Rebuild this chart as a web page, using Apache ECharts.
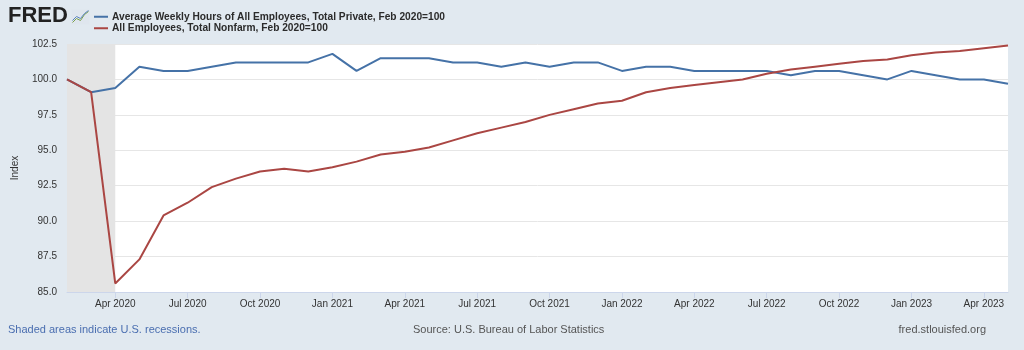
<!DOCTYPE html>
<html><head><meta charset="utf-8">
<script src="https://cdn.jsdelivr.net/npm/echarts@6/dist/echarts.min.js"></script>
<style>html,body{margin:0;padding:0;background:#e1e9f0;}#c{width:1024px;height:350px;}</style>
</head><body><div id="c"></div>
<script>
const months = ['Jan','Feb','Mar','Apr','May','Jun','Jul','Aug','Sep','Oct','Nov','Dec'];
const categories = [];
for (let y = 2020; y <= 2023; y++) for (let m = 0; m < 12; m++) {
  if ((y === 2020 && m < 1) || (y === 2023 && m > 4)) continue;
  categories.push(months[m] + ' ' + y);
}
const hoursIndex = [100.0, 99.1, 99.4, 100.9, 100.6, 100.6, 100.9, 101.2, 101.2, 101.2, 101.2,
  101.8, 100.6, 101.5, 101.5, 101.5, 101.2, 101.2, 100.9, 101.2, 100.9, 101.2, 101.2,
  100.6, 100.9, 100.9, 100.6, 100.6, 100.6, 100.6, 100.3, 100.6, 100.6, 100.3, 100.0,
  100.6, 100.3, 100.0, 100.0, 99.7];
const employeesIndex = [100.0, 99.1, 85.6, 87.3, 90.4, 91.3, 92.4, 93.0, 93.5, 93.7, 93.5,
  93.8, 94.2, 94.7, 94.9, 95.2, 95.7, 96.2, 96.6, 97.0, 97.5, 97.9, 98.3,
  98.5, 99.1, 99.4, 99.6, 99.8, 100.0, 100.4, 100.7, 100.9, 101.1, 101.3, 101.4,
  101.7, 101.9, 102.0, 102.2, 102.4];
const seriesNames = ['Average Weekly Hours of All Employees, Total Private, Feb 2020=100',
  'All Employees, Total Nonfarm, Feb 2020=100'];
const recession = ['Feb 2020', 'Apr 2020'];
const yTicks = {min: 85, max: 102.5, step: 2.5};

const chart = echarts.init(document.getElementById('c'));
const quarterly = (i) => i % 3 === 2;
chart.setOption({
  backgroundColor: '#e1e9f0',
  animation: false,
  textStyle: {fontFamily: 'Liberation Sans, Arial, sans-serif'},
  grid: {left: 67, right: 16, top: 44, bottom: 58, show: true, backgroundColor: '#ffffff', borderWidth: 0},
  legend: {
    left: 94, top: 11, orient: 'vertical', itemGap: 0, itemWidth: 14, itemHeight: 2,
    icon: 'rect', padding: 0,
    textStyle: {fontSize: 10.2, color: '#2b2b2b', fontWeight: 'bold', lineHeight: 11.5, padding: [0,0,0,-1]},
    data: seriesNames
  },
  xAxis: {
    type: 'category', data: categories, boundaryGap: false,
    axisLine: {lineStyle: {color: '#ccd6eb'}},
    axisTick: {interval: quarterly, length: 6, lineStyle: {color: '#ccd6eb'}},
    axisLabel: {interval: quarterly, color: '#333', fontSize: 10, margin: 7},
    splitLine: {show: false}
  },
  yAxis: {
    type: 'value', min: yTicks.min, max: yTicks.max, interval: yTicks.step,
    name: 'Index', nameLocation: 'middle', nameGap: 47, nameRotate: 90,
    nameTextStyle: {color: '#333', fontSize: 10},
    axisLine: {show: false}, axisTick: {show: false},
    axisLabel: {color: '#333', fontSize: 10, margin: 10, formatter: v => v.toFixed(1)},
    splitLine: {lineStyle: {color: '#e6e6e6', width: 1}}
  },
  series: [
    {name: seriesNames[0], type: 'line', data: hoursIndex, symbol: 'none',
     lineStyle: {color: '#4572a7', width: 2}, itemStyle: {color: '#4572a7'},
     markArea: {silent: true, itemStyle: {color: '#e4e4e4', opacity: 1}, data: [[{xAxis: recession[0]}, {xAxis: recession[1]}]]},
     z: 2},
    {name: seriesNames[1], type: 'line', data: employeesIndex, symbol: 'none',
     lineStyle: {color: '#aa4643', width: 2}, itemStyle: {color: '#aa4643'}, z: 3}
  ],
  graphic: [
    {type: 'text', left: 8, top: 5, style: {text: 'FRED', fontSize: 22, fontWeight: 'bold', fill: '#222', fontFamily: 'Liberation Sans, Arial, sans-serif'}},
    {type: 'group', left: 70, top: 8, children: [
      {type: 'rect', shape: {x: 0, y: 0, width: 18, height: 15}, style: {fill: '#dfe6ee'}},
      {type: 'polyline', shape: {points: [[1,13],[5,9],[9,11],[13,5],[17,2]]}, style: {stroke: '#7aa04a', lineWidth: 1, fill: null}},
      {type: 'polyline', shape: {points: [[1,11],[5,7],[9,9],[13,4],[17,1]]}, style: {stroke: '#5a82c0', lineWidth: 1, fill: null}}
    ]},
    {type: 'text', left: 8, top: 324, style: {text: 'Shaded areas indicate U.S. recessions.', fontSize: 11, fill: '#4a6eb0'}},
    {type: 'text', left: 413, top: 324, style: {text: 'Source: U.S. Bureau of Labor Statistics', fontSize: 11, fill: '#555'}},
    {type: 'text', right: 38, top: 324, style: {text: 'fred.stlouisfed.org', fontSize: 11, fill: '#555'}}
  ]
});
</script></body></html>
